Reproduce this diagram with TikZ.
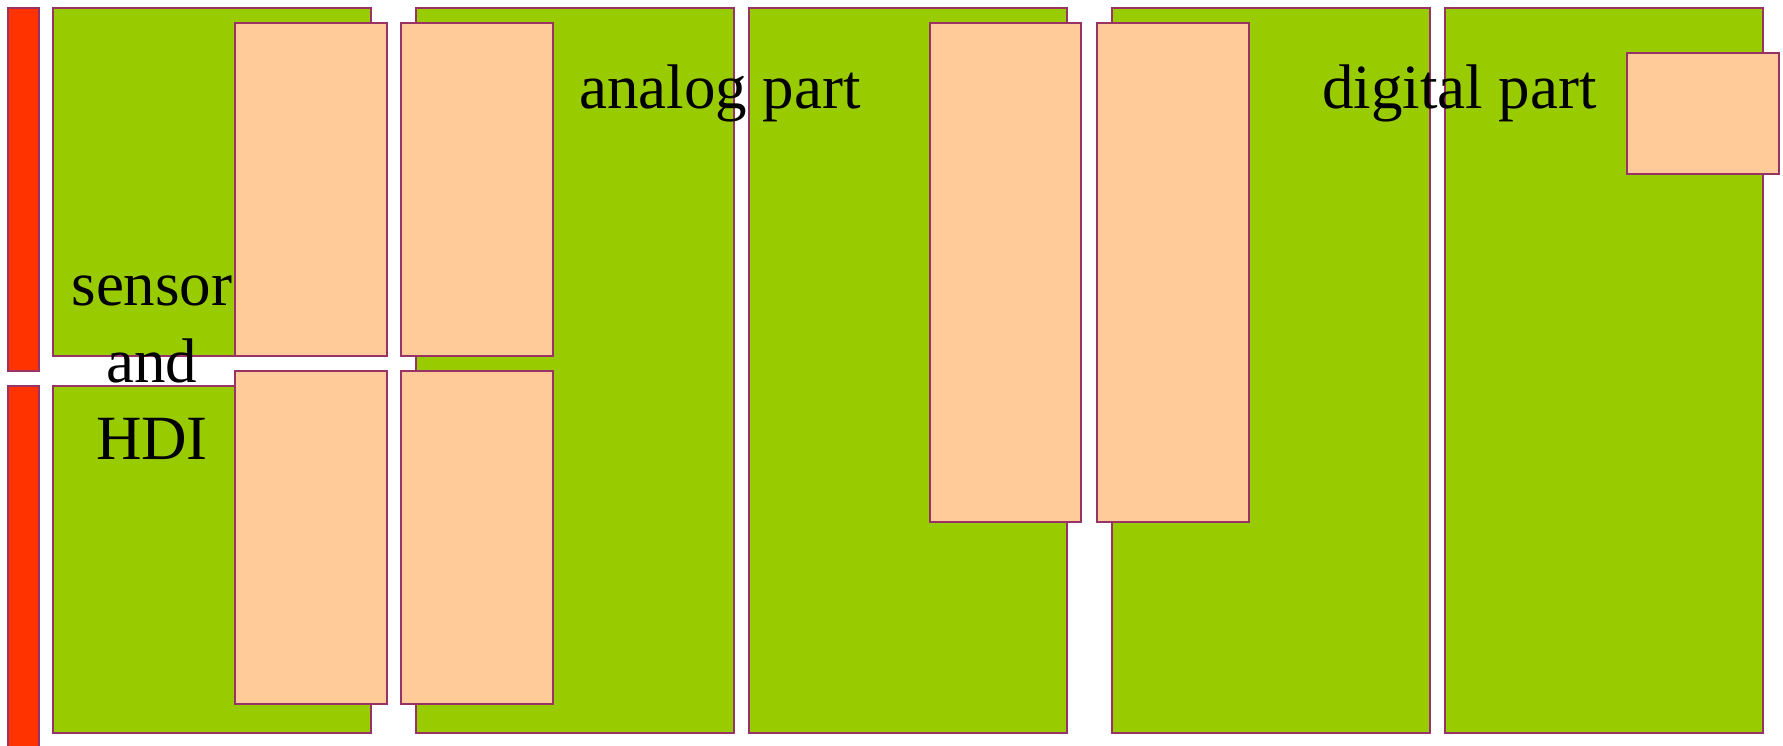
\documentclass[tikz,border=0pt]{standalone}
\usepackage{fontspec}
\setmainfont{Liberation Serif}
\definecolor{leaf_green}	{RGB}{153,204,0}
\definecolor{peach}		{RGB}{255,204,153}
\definecolor{signal_red}	{RGB}{255,51,0}
\definecolor{plum}		{RGB}{153,51,102}

\begin{document}
\begin{tikzpicture}[x = 1pt, y = -1pt,
		board/.style    = {draw = plum,
			rectangle,
			anchor         = north west,
			inner sep      = 0pt,
			outer sep      = 0pt,
			line width     = 1.5pt},
		boardG/.style   = {board,
			fill           = leaf_green},
		chipO/.style    = {board,
			fill           = peach},
		barR/.style     = {board,
			fill           = signal_red},
		tag/.style      = {inner sep = 0pt,
			align          = center,
			font           = \fontsize{63}{77}\selectfont}]
	
	\clip (0,0) rectangle (1783,746);
	
	% connector bars
	\node[barR, minimum width=31pt, minimum height=363pt] (BarTop) at (8,8) {};
	\node[barR, minimum width=31pt, minimum height=370pt] (BarBot) at (8,386) {};
	
	% boards
	\node[boardG, minimum width=318pt, minimum height=348pt] (SensTop) at (53,8) {};
	\node[boardG, minimum width=318pt, minimum height=347pt] (SensBot) at (53,386) {};
	\node[boardG, minimum width=318pt, minimum height=725pt] (Ana1) at (416,8) {};
	\node[boardG, minimum width=318pt, minimum height=725pt] (Ana2) at (749,8) {};
	\node[boardG, minimum width=318pt, minimum height=725pt] (Dig1) at (1112,8) {};
	\node[boardG, minimum width=318pt, minimum height=725pt] (Dig2) at (1445,8) {};
	
	% chips
	\node[chipO, minimum width=152pt, minimum height=333pt] (ChipA) at (235,23) {};
	\node[chipO, minimum width=152pt, minimum height=333pt] (ChipB) at (401,23) {};
	\node[chipO, minimum width=152pt, minimum height=333pt] (ChipC) at (235,371) {};
	\node[chipO, minimum width=152pt, minimum height=333pt] (ChipD) at (401,371) {};
	\node[chipO, minimum width=151pt, minimum height=499pt] (ChipE) at (930,23) {};
	\node[chipO, minimum width=152pt, minimum height=499pt] (ChipF) at (1097,23) {};
	\node[chipO, minimum width=152pt, minimum height=121pt] (ChipG) at (1627,53) {};
	
	% labels (base = last line)
	\node[tag, anchor=base] (Sens) at (152,459) {sensor\\and\\HDI};
	\node[tag, anchor=base west] (Analog) at (579,109) {analog part};
	\node[tag, anchor=base west] (Digital) at (1322,109) {digital part};
	
\end{tikzpicture}
\end{document}
